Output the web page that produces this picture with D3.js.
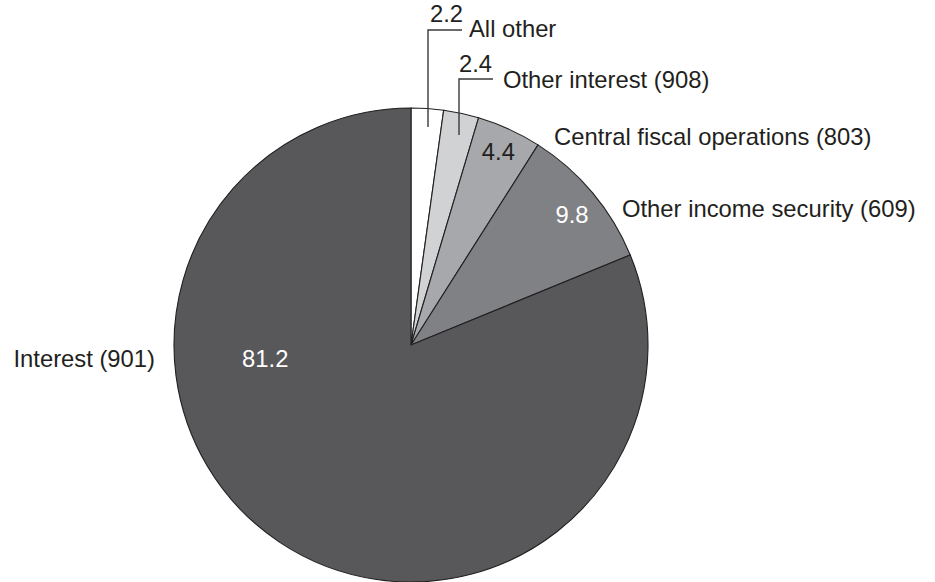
<!DOCTYPE html>
<html>
<head>
<meta charset="utf-8">
<script src="https://cdn.jsdelivr.net/npm/d3@7"></script>
<style>
  body { margin: 0; background: #fff; }
  text { font-family: "Liberation Sans", Arial, sans-serif; fill: #231f20; }
</style>
</head>
<body>
<div id="chart"></div>
<script>
var svgWidth = 935;
var svgHeight = 582;

// slices clockwise from 12 o'clock
var categories = ["All other", "Other interest (908)", "Central fiscal operations (803)", "Other income security (609)", "Interest (901)"];
var values = [2.2, 2.4, 4.4, 9.8, 81.2];
var valueLabels = ["2.2", "2.4", "4.4", "9.8", "81.2"];
var colors = ["#ffffff", "#d1d2d4", "#a7a8ab", "#808184", "#58585a"];

var cx = 411, cy = 345, radius = 237;
var fontSize = 23.8;

var svg = d3.select("#chart")
  .append("svg")
  .attr("width", svgWidth)
  .attr("height", svgHeight);

var pieGroup = svg.append("g")
  .attr("transform", `translate(${cx}, ${cy})`);

var data = categories.map(function(c, i) {
  return { name: c, value: values[i], label: valueLabels[i], color: colors[i] };
});

var pie = d3.pie()
  .sort(null)
  .value(d => d.value);

var arcs = pie(data);

var arc = d3.arc()
  .innerRadius(0)
  .outerRadius(radius);

pieGroup.selectAll("path")
  .data(arcs)
  .enter()
  .append("path")
  .attr("d", arc)
  .attr("fill", d => d.data.color)
  .attr("stroke", "#231f20")
  .attr("stroke-width", 1.1);

// value labels inside the bigger slices
var inner = d3.arc().innerRadius(radius * 0.89).outerRadius(radius * 0.89);
var inner2 = d3.arc().innerRadius(radius * 0.886).outerRadius(radius * 0.886);

pieGroup.append("text")
  .attr("x", inner.centroid(arcs[2])[0])
  .attr("y", inner.centroid(arcs[2])[1] + 7)
  .attr("text-anchor", "middle")
  .attr("font-size", fontSize)
  .text(arcs[2].data.label);

pieGroup.append("text")
  .attr("x", inner2.centroid(arcs[3])[0])
  .attr("y", inner2.centroid(arcs[3])[1] + 13)
  .attr("text-anchor", "middle")
  .attr("font-size", fontSize)
  .style("fill", "#fff")
  .text(arcs[3].data.label);

pieGroup.append("text")
  .attr("x", -radius * 0.615)
  .attr("y", 22)
  .attr("text-anchor", "middle")
  .attr("font-size", fontSize)
  .style("fill", "#fff")
  .text(arcs[4].data.label);

// leader lines for the two thin slices
var leaders = [
  { i: 0, x: 428, top: 30, bottom: 127, right: 462, textX: 430, textY: 22, nameX: 469, nameY: 37 },
  { i: 1, x: 459, top: 79, bottom: 135, right: 493, textX: 459, textY: 72, nameX: 503, nameY: 88 }
];

leaders.forEach(function(l) {
  svg.append("path")
    .attr("d", `M${l.x},${l.bottom}V${l.top}H${l.right}`)
    .attr("fill", "none")
    .attr("stroke", "#3a3a3c")
    .attr("stroke-width", 1.4);
  svg.append("text")
    .attr("x", l.textX)
    .attr("y", l.textY)
    .attr("font-size", fontSize)
    .text(arcs[l.i].data.label);
  svg.append("text")
    .attr("x", l.nameX)
    .attr("y", l.nameY)
    .attr("font-size", fontSize)
    .text(arcs[l.i].data.name);
});

// category labels outside
svg.append("text")
  .attr("x", 554).attr("y", 145)
  .attr("font-size", fontSize)
  .text(categories[2]);

svg.append("text")
  .attr("x", 622).attr("y", 217)
  .attr("font-size", fontSize)
  .text(categories[3]);

svg.append("text")
  .attr("x", 155).attr("y", 367)
  .attr("text-anchor", "end")
  .attr("font-size", fontSize)
  .text(categories[4]);
</script>
</body>
</html>
